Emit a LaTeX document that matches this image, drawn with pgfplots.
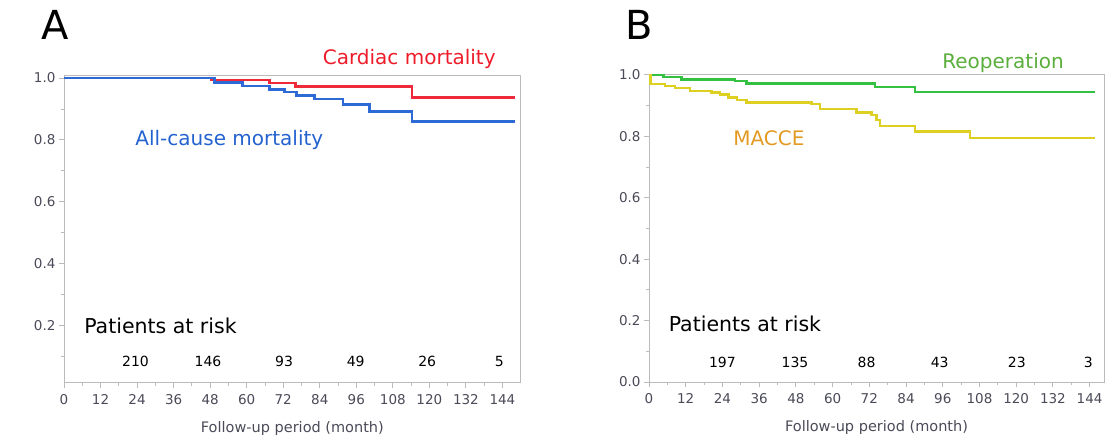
\documentclass[border=0pt]{standalone}
\usepackage{pgfplots}
\pgfplotsset{compat=1.18}
\usepackage{fontspec}
\setmainfont{DejaVu Sans}
\definecolor{cred}{HTML}{EE2A3A}
\definecolor{cblue}{HTML}{2E6AD6}
\definecolor{cgreen}{HTML}{34C040}
\definecolor{cyel}{HTML}{DDD022}
\definecolor{tred}{HTML}{EE1C2A}
\definecolor{tblue}{HTML}{2462D0}
\definecolor{tgreen}{HTML}{5AAE3C}
\definecolor{torange}{HTML}{E39A22}
\definecolor{framegray}{HTML}{BBBBBB}
\definecolor{ticklab}{HTML}{4A4A58}
\tikzset{risk/.style={font=\fontsize{14}{16}\selectfont, text=black}}
\pgfplotsset{
  km/.style={
    scale only axis,
    anchor=south west,
    clip=false,
    axis line style={draw=framegray, line width=0.9pt},
    tick style={draw=framegray, line width=0.9pt},
    tick align=outside,
    xtick pos=lower, ytick pos=left,
    major tick length=5pt, minor tick length=3pt,
    xtick={0,12,...,144},
    minor x tick num=1,
    minor y tick num=1,
    /pgf/number format/assume math mode=true,
    ticklabel style={font=\fontsize{13.5}{15}\selectfont, text=ticklab},
    xticklabel style={yshift=-3pt},
    yticklabel style={/pgf/number format/.cd, fixed, fixed zerofill, precision=1},
    xlabel={Follow-up period (month)},
    xlabel style={font=\fontsize{14.5}{16}\selectfont, text=ticklab, yshift=-10pt},
  },
}
\begin{document}
\begin{tikzpicture}
\useasboundingbox (0,0) rectangle (1108pt,441pt);
\node[font=\fontsize{40}{44}\selectfont] at (55pt,416pt) {A};
\node[font=\fontsize{40}{44}\selectfont] at (639pt,416pt) {B};
% Panel A
\begin{axis}[km,
  at={(64pt,58.3pt)}, width=456.7pt, height=307.7pt,
  xmin=0, xmax=150, ymin=0.015, ymax=1.01,
  ytick={0.2,0.4,0.6,0.8,1.0},
  minor ytick={0.1,0.3,0.5,0.7,0.9},
  ]
\addplot[const plot, cred, line width=2.6pt] coordinates {
 (0,1.0) (48.5,0.994) (67.5,0.984) (76,0.972) (114.3,0.937) (148,0.937)};
\addplot[const plot, cblue, line width=2.6pt] coordinates {
 (0,1.0) (49.5,0.986) (58.6,0.975) (67.5,0.964) (72.5,0.955) (76.3,0.944)
 (82.3,0.932) (91.6,0.914) (100.4,0.892) (114.3,0.860) (148,0.860)};
\node[text=tred, font=\fontsize{20}{22}\selectfont] at (axis cs:113.4,1.062) {Cardiac mortality};
\node[text=tblue, font=\fontsize{20}{22}\selectfont] at (axis cs:54.3,0.80) {All-cause mortality};
\node[anchor=west, font=\fontsize{20.5}{22}\selectfont] at (axis cs:5.5,0.2) {Patients at risk};
\node[risk] at (axis cs:23.5,0.083) {210};
\node[risk] at (axis cs:47.3,0.083) {146};
\node[risk] at (axis cs:72.3,0.083) {93};
\node[risk] at (axis cs:95.8,0.083) {49};
\node[risk] at (axis cs:119.3,0.083) {26};
\node[risk] at (axis cs:143,0.083) {5};
\end{axis}
% Panel B
\begin{axis}[km,
  at={(649pt,59pt)}, width=455pt, height=308pt,
  xmin=0, xmax=148.7, ymin=0, ymax=1.003,
  ytick={0.0,0.2,0.4,0.6,0.8,1.0},
  minor ytick={0.1,0.3,0.5,0.7,0.9},
  ]
\addplot[const plot, cgreen, line width=2.6pt] coordinates {
 (0,1.0) (4.7,0.993) (10.7,0.986) (28.1,0.98) (31.9,0.973) (73.9,0.961)
 (86.9,0.944) (145.8,0.944)};
\addplot[const plot, cyel, line width=2.6pt] coordinates {
 (0,1.0) (0.4,0.970) (5.2,0.964) (8.5,0.957) (13.4,0.948) (20.5,0.943)
 (23.2,0.937) (26,0.926) (28.7,0.918) (31.9,0.911) (53.2,0.905) (55.9,0.889)
 (67.9,0.878) (72.8,0.869) (74.4,0.853) (75.5,0.834) (86.9,0.816)
 (104.9,0.795) (145.8,0.795)};
\node[text=tgreen, font=\fontsize{20}{22}\selectfont] at (axis cs:115.7,1.04) {Reoperation};
\node[text=torange, font=\fontsize{20}{22}\selectfont] at (axis cs:39.2,0.795) {MACCE};
\node[anchor=west, font=\fontsize{20.5}{22}\selectfont] at (axis cs:5.3,0.19) {Patients at risk};
\node[risk] at (axis cs:24,0.063) {197};
\node[risk] at (axis cs:47.7,0.063) {135};
\node[risk] at (axis cs:71.1,0.063) {88};
\node[risk] at (axis cs:95,0.063) {43};
\node[risk] at (axis cs:120.2,0.063) {23};
\node[risk] at (axis cs:143.6,0.063) {3};
\end{axis}
\end{tikzpicture}
\end{document}
